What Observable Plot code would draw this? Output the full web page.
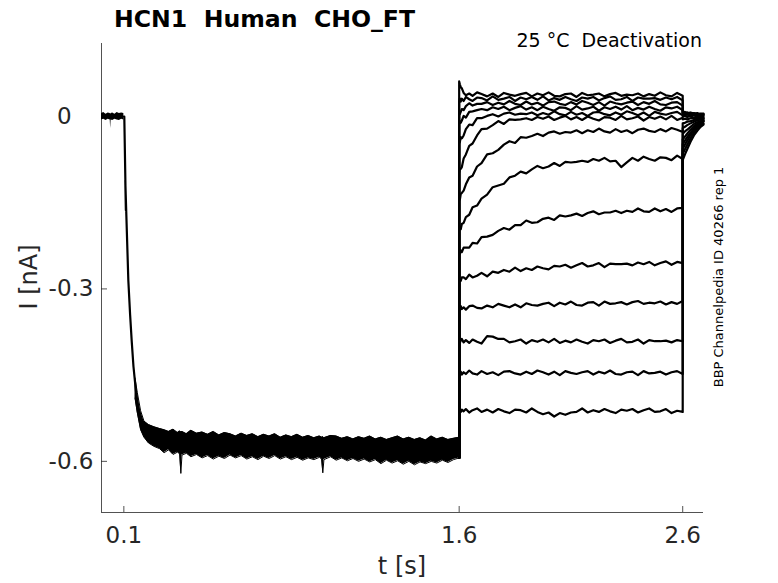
<!DOCTYPE html>
<html><head><meta charset="utf-8">
<script src="https://cdn.jsdelivr.net/npm/d3@7"></script>
<script src="https://cdn.jsdelivr.net/npm/@observablehq/plot@0.6"></script>
<style>body{margin:0;background:#fff;} #chart{width:778px;height:583px;}</style>
</head><body><div id="chart"></div>
<script>
// ---- axes ----
const xTicks = [0.1, 1.6, 2.6];
const xTickLabels = ["0.1", "1.6", "2.6"];
const yTicks = [0, -0.3, -0.6];
const yTickLabels = ["0\u00a0\u00a0\u00a0", "-0.3", "-0.6"];
const xDomain = [0, 2.693];
const yDomain = [-0.689, 0.127];

// ---- holding baseline (0 - 0.1 s), noise envelope ----
const tBase  = [0, 0.01, 0.02, 0.03, 0.039, 0.041, 0.043, 0.05, 0.06, 0.07, 0.08, 0.09, 0.1];
const baseHi = [0.005,0.007,0.004,0.006,0.005,0.004,0.005,0.006,0.004,0.007,0.005,0.006,0.005];
const baseLo = [-0.006,-0.005,-0.007,-0.005,-0.006,-0.021,-0.006,-0.007,-0.005,-0.006,-0.007,-0.005,-0.006];

// ---- activation step onset (all sweeps overlap) ----
const tDecay = [0.1, 0.102, 0.109, 0.1064, 0.12, 0.128, 0.135, 0.143, 0.152, 0.16, 0.175];
const iDecay = [0.0, 0.0, -0.163, -0.111, -0.285, -0.345, -0.39, -0.435, -0.47, -0.497, -0.528];

// ---- activation plateau: envelope of the 14 overlapping noisy sweeps ----
const tBand = [0.15,0.16,0.175,0.19,0.21,0.235,0.26,0.28,0.30,0.32,0.34,0.35,0.355,0.36,0.38,0.40,0.425,0.45,0.475,0.50,
  0.525,0.55,0.575,0.60,0.625,0.65,0.675,0.70,0.725,0.75,0.775,0.80,0.825,0.85,0.875,0.90,0.925,0.95,0.975,0.985,
  0.99,0.995,1.025,1.05,1.075,1.10,1.125,1.15,1.175,1.20,1.225,1.25,1.275,1.30,1.325,1.35,1.375,1.40,1.425,1.45,
  1.475,1.50,1.525,1.55,1.575,1.60];
const bandHi = [-0.455,-0.48,-0.512,-0.53,-0.536,-0.54,-0.543,-0.545,-0.548,-0.544,-0.550,-0.547,-0.549,-0.548,-0.552,-0.546,-0.551,-0.549,-0.553,-0.548,
  -0.554,-0.55,-0.552,-0.556,-0.551,-0.555,-0.552,-0.557,-0.553,-0.556,-0.552,-0.558,-0.554,-0.557,-0.553,-0.558,-0.555,-0.559,-0.556,-0.558,
  -0.557,-0.559,-0.555,-0.556,-0.56,-0.557,-0.561,-0.557,-0.56,-0.556,-0.561,-0.558,-0.562,-0.559,-0.556,-0.561,-0.558,-0.562,-0.559,-0.563,
  -0.556,-0.561,-0.558,-0.562,-0.56,-0.558];
const bandLo = [-0.49,-0.515,-0.545,-0.558,-0.568,-0.574,-0.578,-0.585,-0.58,-0.588,-0.584,-0.587,-0.621,-0.589,-0.586,-0.592,-0.588,-0.594,-0.59,-0.596,
  -0.591,-0.595,-0.589,-0.594,-0.59,-0.596,-0.592,-0.597,-0.591,-0.595,-0.59,-0.596,-0.592,-0.597,-0.593,-0.598,-0.594,-0.597,-0.593,-0.596,
  -0.62,-0.597,-0.592,-0.598,-0.594,-0.599,-0.595,-0.6,-0.596,-0.601,-0.597,-0.604,-0.598,-0.603,-0.599,-0.605,-0.6,-0.606,-0.601,-0.604,
  -0.6,-0.603,-0.598,-0.602,-0.597,-0.594];

// ---- deactivation steps (1.6 - 2.6 s), one array per sweep ----
const preStep = -0.594;
const tDeact = [1.6,1.603,1.607,1.612,1.62,1.63,1.645,1.66,1.68,1.7,1.725,1.75,1.775,1.8,1.825,1.85,1.875,1.9,1.925,1.95,1.975,2.0,2.025,
  2.05,2.075,2.1,2.125,2.15,2.175,2.2,2.225,2.25,2.275,2.3,2.325,2.35,2.375,2.4,2.425,2.45,2.475,2.5,2.525,2.55,2.575,2.6];
const sweep01 = [0.061,0.056,0.051,0.049,0.041,0.037,0.040,0.036,0.042,0.039,0.035,0.040,0.034,0.041,0.038,0.036,0.039,0.041,0.035,0.040,0.037,0.042,0.036,0.035,0.039,0.040,0.034,0.041,0.037,0.038,0.040,0.035,0.039,0.041,0.036,0.038,0.037,0.040,0.035,0.039,0.036,0.042,0.037,0.035,0.041,0.036];
const sweep02 = [0.026,0.031,0.026,0.031,0.027,0.034,0.030,0.027,0.033,0.032,0.028,0.035,0.029,0.031,0.034,0.027,0.033,0.030,0.034,0.029,0.035,0.028,0.032,0.029,0.034,0.030,0.027,0.033,0.031,0.034,0.028,0.032,0.035,0.029,0.030,0.034,0.027,0.033,0.031,0.031,0.032,0.029,0.033,0.030,0.034,0.028];
const sweep03 = [0.003,0.004,0.008,0.013,0.011,0.018,0.023,0.019,0.022,0.022,0.025,0.020,0.024,0.021,0.027,0.022,0.020,0.026,0.021,0.024,0.019,0.025,0.026,0.022,0.020,0.025,0.021,0.027,0.024,0.020,0.025,0.019,0.026,0.023,0.021,0.024,0.026,0.020,0.025,0.022,0.027,0.021,0.020,0.024,0.025,0.019];
const sweep04 = [-0.014,-0.008,-0.011,-0.007,0.001,-0.002,0.008,0.009,0.011,0.013,0.011,0.016,0.013,0.017,0.011,0.015,0.018,0.012,0.016,0.011,0.017,0.013,0.010,0.016,0.015,0.011,0.018,0.012,0.014,0.017,0.010,0.016,0.013,0.017,0.012,0.018,0.011,0.015,0.012,0.017,0.013,0.010,0.016,0.014,0.017,0.011];
const sweep05 = [-0.047,-0.045,-0.036,-0.038,-0.033,-0.022,-0.014,-0.015,-0.003,-0.003,0.001,0.004,0.000,0.005,0.007,0.003,0.005,0.004,0.007,0.002,0.006,0.003,0.009,0.004,0.002,0.008,0.003,0.006,0.001,0.007,0.008,0.004,0.002,0.007,0.003,0.009,0.006,0.002,0.007,0.001,0.008,0.005,0.003,0.006,0.008,0.002];
const sweep06 = [-0.099,-0.092,-0.091,-0.088,-0.073,-0.066,-0.051,-0.047,-0.033,-0.022,-0.021,-0.015,-0.008,-0.013,-0.005,-0.006,-0.005,-0.003,-0.006,-0.001,-0.004,0.000,-0.006,-0.002,0.001,-0.005,-0.001,-0.006,0.000,-0.004,-0.007,-0.001,-0.002,-0.006,0.001,-0.005,-0.003,0.000,-0.007,-0.001,-0.004,0.000,-0.005,0.001,-0.006,-0.002];
const sweep07 = [-0.144,-0.145,-0.135,-0.133,-0.129,-0.118,-0.106,-0.103,-0.087,-0.081,-0.066,-0.064,-0.058,-0.049,-0.043,-0.046,-0.036,-0.037,-0.034,-0.030,-0.034,-0.028,-0.026,-0.030,-0.027,-0.028,-0.024,-0.029,-0.024,-0.027,-0.021,-0.026,-0.028,-0.022,-0.027,-0.024,-0.029,-0.023,-0.021,-0.025,-0.027,-0.022,-0.026,-0.020,-0.023,-0.027];
const sweep08 = [-0.197,-0.192,-0.196,-0.187,-0.185,-0.175,-0.171,-0.158,-0.155,-0.143,-0.136,-0.123,-0.120,-0.117,-0.106,-0.103,-0.096,-0.099,-0.092,-0.086,-0.090,-0.087,-0.081,-0.086,-0.079,-0.080,-0.079,-0.077,-0.079,-0.074,-0.077,-0.072,-0.078,-0.077,-0.088,-0.080,-0.072,-0.077,-0.070,-0.074,-0.077,-0.071,-0.072,-0.076,-0.068,-0.074];
const sweep09 = [-0.237,-0.239,-0.233,-0.236,-0.228,-0.228,-0.228,-0.220,-0.221,-0.210,-0.209,-0.206,-0.199,-0.194,-0.197,-0.189,-0.189,-0.181,-0.185,-0.184,-0.178,-0.176,-0.180,-0.172,-0.174,-0.172,-0.169,-0.173,-0.168,-0.165,-0.170,-0.167,-0.167,-0.164,-0.168,-0.164,-0.166,-0.160,-0.165,-0.166,-0.160,-0.165,-0.161,-0.166,-0.160,-0.159];
const sweep10 = [-0.283,-0.284,-0.286,-0.280,-0.280,-0.283,-0.275,-0.280,-0.277,-0.272,-0.278,-0.270,-0.272,-0.267,-0.270,-0.263,-0.269,-0.264,-0.267,-0.261,-0.264,-0.266,-0.260,-0.261,-0.258,-0.263,-0.259,-0.255,-0.261,-0.259,-0.255,-0.262,-0.256,-0.257,-0.257,-0.256,-0.259,-0.254,-0.257,-0.253,-0.259,-0.255,-0.252,-0.258,-0.253,-0.255];
const sweep11 = [-0.334,-0.337,-0.330,-0.335,-0.332,-0.336,-0.330,-0.329,-0.333,-0.334,-0.329,-0.332,-0.326,-0.329,-0.332,-0.327,-0.332,-0.325,-0.328,-0.329,-0.326,-0.324,-0.330,-0.324,-0.327,-0.322,-0.328,-0.329,-0.324,-0.323,-0.329,-0.322,-0.326,-0.325,-0.323,-0.327,-0.323,-0.321,-0.326,-0.324,-0.325,-0.322,-0.327,-0.323,-0.326,-0.321];
const sweep12 = [-0.393,-0.394,-0.390,-0.387,-0.393,-0.389,-0.394,-0.388,-0.392,-0.395,-0.382,-0.383,-0.387,-0.387,-0.393,-0.391,-0.388,-0.395,-0.389,-0.392,-0.388,-0.393,-0.387,-0.394,-0.390,-0.393,-0.388,-0.392,-0.395,-0.389,-0.391,-0.388,-0.394,-0.390,-0.387,-0.393,-0.392,-0.388,-0.395,-0.389,-0.391,-0.391,-0.390,-0.393,-0.389,-0.391];
const sweep13 = [-0.447,-0.447,-0.444,-0.449,-0.445,-0.448,-0.442,-0.447,-0.449,-0.443,-0.448,-0.445,-0.450,-0.444,-0.443,-0.447,-0.449,-0.444,-0.448,-0.442,-0.445,-0.449,-0.444,-0.450,-0.443,-0.446,-0.448,-0.445,-0.443,-0.449,-0.444,-0.447,-0.442,-0.448,-0.449,-0.445,-0.444,-0.450,-0.443,-0.447,-0.446,-0.444,-0.449,-0.445,-0.443,-0.448];
const sweep14 = [-0.512,-0.511,-0.514,-0.510,-0.513,-0.509,-0.515,-0.511,-0.508,-0.514,-0.510,-0.515,-0.509,-0.513,-0.516,-0.510,-0.511,-0.515,-0.508,-0.514,-0.518,-0.515,-0.522,-0.516,-0.519,-0.515,-0.514,-0.508,-0.515,-0.511,-0.514,-0.509,-0.513,-0.516,-0.510,-0.512,-0.509,-0.515,-0.511,-0.508,-0.514,-0.513,-0.509,-0.516,-0.512,-0.514];

// ---- tail currents after return to holding (2.6 s - end) ----
const tTail = [2.6, 2.61, 2.62, 2.635, 2.65, 2.665, 2.68, 2.693];
const tail01 = [0.007,0.008,0.006,0.007,0.005,0.006,0.004,0.005];
const tail02 = [0.006,0.005,0.007,0.004,0.006,0.003,0.005,0.004];
const tail03 = [0.005,0.006,0.003,0.005,0.002,0.004,0.002,0.003];
const tail04 = [0.003,0.002,0.004,0.001,0.003,0.001,0.003,0.002];
const tail05 = [0.000,0.001,-0.001,0.001,-0.002,0.001,-0.001,0.000];
const tail06 = [-0.005,-0.004,-0.005,-0.003,-0.003,-0.002,-0.003,-0.002];
const tail07 = [-0.012,-0.011,-0.009,-0.008,-0.006,-0.005,-0.004,-0.003];
const tail08 = [-0.020,-0.018,-0.015,-0.012,-0.009,-0.007,-0.005,-0.004];
const tail09 = [-0.030,-0.026,-0.023,-0.018,-0.013,-0.010,-0.008,-0.006];
const tail10 = [-0.040,-0.035,-0.030,-0.023,-0.017,-0.013,-0.009,-0.007];
const tail11 = [-0.048,-0.042,-0.036,-0.028,-0.021,-0.015,-0.011,-0.008];
const tail12 = [-0.056,-0.049,-0.042,-0.032,-0.024,-0.018,-0.013,-0.009];
const tail13 = [-0.065,-0.057,-0.049,-0.038,-0.028,-0.021,-0.016,-0.012];
const tail14 = [-0.076,-0.066,-0.057,-0.044,-0.033,-0.025,-0.018,-0.014];

const sweeps = [sweep01,sweep02,sweep03,sweep04,sweep05,sweep06,sweep07,sweep08,sweep09,sweep10,sweep11,sweep12,sweep13,sweep14];
const tails  = [tail01,tail02,tail03,tail04,tail05,tail06,tail07,tail08,tail09,tail10,tail11,tail12,tail13,tail14];

// ---- build tables ----
const rows = [];
sweeps.forEach((s, k) => {
  rows.push({t: tDeact[0], i: preStep, k});
  tDeact.forEach((t, j) => rows.push({t, i: s[j], k}));
  tTail.forEach((t, j) => rows.push({t, i: tails[k][j], k}));
});
const base = tBase.map((t, j) => ({t, lo: baseLo[j], hi: baseHi[j]}));
const band = tBand.map((t, j) => ({t, lo: bandLo[j], hi: bandHi[j]}));
const decay = tDecay.map((t, j) => ({t, i: iDecay[j]}));

const W = 778, H = 583, mL = 101, mR = 75, mT = 43, mB = 71;
const ink = "#262626";

const svg = Plot.plot({
  width: W, height: H,
  marginLeft: mL, marginRight: mR, marginTop: mT, marginBottom: mB,
  x: {domain: xDomain},
  y: {domain: yDomain},
  style: {fontFamily: "DejaVu Sans", fontSize: "23px", color: ink, background: "#fff", overflow: "visible"},
  marks: [
    Plot.ruleX([xDomain[0]], {stroke: ink, strokeWidth: 0.8}),
    Plot.ruleY([yDomain[0]], {stroke: ink, strokeWidth: 0.8}),
    Plot.tickX(xTicks, {x: d => d, insetTop: H - mT - mB - 6, stroke: ink, strokeWidth: 0.8}),
    Plot.tickY(yTicks, {y: d => d, insetRight: W - mL - mR - 6, stroke: ink, strokeWidth: 0.8}),
    Plot.axisX({ticks: xTicks, tickSize: 0, tickPadding: 14, fontSize: 23,
      tickFormat: d => xTickLabels[xTicks.indexOf(d)], label: null}),
    Plot.axisY({ticks: yTicks, tickSize: 0, tickPadding: 8, fontSize: 23,
      tickFormat: d => yTickLabels[yTicks.indexOf(d)], label: null}),
    Plot.areaY(base, {x: "t", y1: "lo", y2: "hi", fill: "#000"}),
    Plot.areaY(band, {x: "t", y1: "lo", y2: "hi", fill: "#000"}),
    Plot.line(band, {x: "t", y: "lo", stroke: "#000", strokeWidth: 1}),
    Plot.line(band, {x: "t", y: "hi", stroke: "#000", strokeWidth: 1}),
    Plot.line(decay, {x: "t", y: "i", stroke: "#000", strokeWidth: 2.2}),
    Plot.line(rows, {x: "t", y: "i", z: "k", stroke: "#000", strokeWidth: 2.2, strokeLinejoin: "round"})
  ]
});

const g = d3.select(svg);
g.append("text").attr("x", 114).attr("y", 27).attr("text-anchor", "start")
  .attr("font-family", "DejaVu Sans").attr("font-weight", "bold").attr("font-size", 23.6)
  .attr("fill", "#000").style("white-space", "pre").text("HCN1  Human  CHO_FT");
g.append("text").attr("x", 702).attr("y", 47).attr("text-anchor", "end")
  .attr("font-family", "DejaVu Sans").attr("font-size", 19)
  .attr("fill", "#000").style("white-space", "pre").text("25 °C  Deactivation");
g.append("text").attr("transform", "translate(723,277) rotate(-90)").attr("text-anchor", "middle")
  .attr("font-family", "DejaVu Sans").attr("font-size", 13)
  .attr("fill", "#000").text("BBP Channelpedia ID 40266 rep 1");
g.append("text").attr("x", 402).attr("y", 574).attr("text-anchor", "middle")
  .attr("font-family", "DejaVu Sans").attr("font-size", 24)
  .attr("fill", ink).text("t [s]");
g.append("text").attr("transform", "translate(37,277) rotate(-90)").attr("text-anchor", "middle")
  .attr("font-family", "DejaVu Sans").attr("font-size", 24)
  .attr("fill", ink).text("I [nA]");

document.getElementById("chart").appendChild(svg);
</script>
</body></html>
